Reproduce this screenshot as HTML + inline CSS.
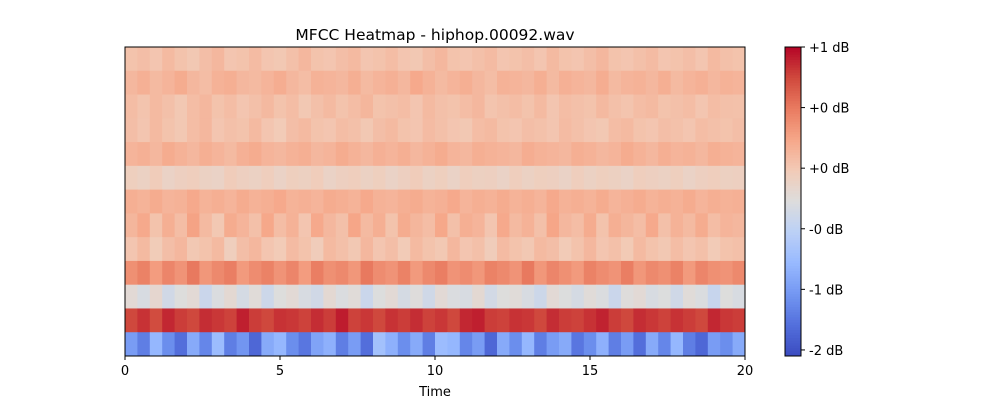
<!DOCTYPE html>
<html><head><meta charset="utf-8"><style>
body{margin:0;background:#fff;font-family:"Liberation Sans",sans-serif;}
svg text{font-family:"DejaVu Sans","Liberation Sans",sans-serif;font-size:13px;fill:#000}
</style></head><body>
<svg id="chart" width="1000" height="400" xmlns="http://www.w3.org/2000/svg">
<text x="435" y="40" text-anchor="middle" style="font-size:15.5px">MFCC Heatmap - hiphop.00092.wav</text>
<g id="cells"></g>
<rect x="125" y="47" width="620" height="309" fill="none" stroke="#000" stroke-width="1"/>
<g id="xaxis"></g>
<text x="435" y="396" text-anchor="middle">Time</text>
<g id="cbar"></g>
</svg>
<script>
const xTicks=[0,5,10,15,20];
const cbTicks=[1,0.5,0,-0.5,-1,-1.5];
const cbLabels=["+1 dB","+0 dB","+0 dB","-0 dB","-1 dB","-2 dB"];
const vmin=-1.55, vmax=1.0, tMax=20;
// rows top to bottom, each sampled across time
const row1=[0.04,0.07,0.02,0.1,0.04,0.0,0.07,0.12,0.02,0.04,0.09,0.02,0.0,0.06,0.12,0.04,0.02,0.07,0.1,0.02,0.04,0.08,0.02,0.0,0.07,0.12,0.04,0.02,0.06,0.09,0.02,0.04,0.07,0.02,0.1,0.04,0.02,0.07,0.12,0.04,0.02,0.06,0.09,0.02,0.04,0.07,0.02,0.1,0.06,0.04];
const row2=[0.12,0.17,0.1,0.14,0.2,0.12,0.08,0.16,0.18,0.12,0.1,0.14,0.19,0.12,0.08,0.16,0.14,0.12,0.18,0.1,0.14,0.17,0.12,0.22,0.16,0.1,0.14,0.18,0.12,0.08,0.16,0.14,0.12,0.18,0.1,0.17,0.14,0.12,0.19,0.1,0.14,0.16,0.12,0.18,0.1,0.14,0.17,0.12,0.16,0.14];
const row3=[0.08,0.03,0.1,0.06,0.0,0.08,0.12,0.04,0.08,0.02,0.06,0.11,0.04,0.08,0.0,0.06,0.1,0.04,0.08,0.13,0.04,0.06,0.08,0.02,0.1,0.06,0.04,0.08,0.12,0.03,0.06,0.08,0.04,0.1,0.02,0.08,0.06,0.04,0.11,0.06,0.03,0.08,0.1,0.04,0.06,0.08,0.02,0.08,0.06,0.05];
const row4=[0.07,0.02,0.1,0.04,0.0,0.08,0.12,0.02,0.06,0.04,0.1,0.02,-0.02,0.07,0.1,0.04,0.02,0.08,0.06,0.0,0.07,0.1,0.04,0.02,0.09,0.06,0.02,0.0,0.08,0.1,0.04,0.02,0.07,0.05,0.02,0.09,0.06,0.02,0.0,0.08,0.1,0.04,0.02,0.07,0.05,0.02,0.08,0.06,0.04,0.07];
const row5=[0.14,0.17,0.12,0.2,0.16,0.12,0.18,0.14,0.1,0.17,0.2,0.14,0.12,0.16,0.18,0.12,0.14,0.2,0.16,0.12,0.17,0.14,0.18,0.12,0.16,0.2,0.14,0.12,0.18,0.16,0.14,0.12,0.19,0.16,0.14,0.12,0.18,0.16,0.12,0.14,0.2,0.16,0.12,0.18,0.14,0.16,0.12,0.18,0.16,0.14];
const row6=[-0.07,-0.1,-0.04,-0.12,-0.08,-0.06,-0.1,-0.12,-0.04,-0.08,-0.1,-0.06,-0.12,-0.07,-0.09,-0.05,-0.12,-0.08,-0.06,-0.1,-0.07,-0.12,-0.08,-0.04,-0.1,-0.07,-0.12,-0.06,-0.09,-0.08,-0.12,-0.06,-0.1,-0.07,-0.08,-0.12,-0.06,-0.1,-0.07,-0.09,-0.12,-0.06,-0.08,-0.1,-0.07,-0.12,-0.08,-0.06,-0.09,-0.08];
const row7=[0.18,0.15,0.2,0.14,0.16,0.22,0.15,0.18,0.14,0.2,0.16,0.18,0.22,0.15,0.17,0.14,0.2,0.18,0.15,0.22,0.16,0.14,0.18,0.2,0.15,0.17,0.22,0.14,0.18,0.16,0.2,0.15,0.18,0.14,0.22,0.16,0.18,0.15,0.2,0.14,0.17,0.2,0.15,0.18,0.16,0.2,0.14,0.18,0.16,0.17];
const row8=[0.13,0.22,0.04,0.18,0.08,0.26,0.1,0.0,0.2,0.14,0.06,0.23,0.08,0.16,0.02,0.22,0.12,0.06,0.24,0.1,0.18,0.04,0.2,0.13,0.08,0.23,0.06,0.18,0.14,0.02,0.22,0.1,0.16,0.06,0.24,0.12,0.08,0.2,0.04,0.18,0.13,0.08,0.22,0.06,0.16,0.1,0.2,0.08,0.14,0.12];
const row9=[0.02,0.1,-0.03,0.07,0.12,0.0,0.04,0.1,-0.06,0.07,0.12,0.02,-0.02,0.09,0.04,-0.04,0.1,0.06,0.0,0.12,0.02,0.07,-0.02,0.1,0.04,0.0,0.12,0.02,0.06,-0.04,0.09,0.04,0.0,0.1,0.07,-0.02,0.04,0.12,0.02,0.06,-0.01,0.1,0.04,0.0,0.08,0.02,0.06,-0.02,0.04,0.06];
const row10=[0.37,0.45,0.3,0.43,0.35,0.5,0.33,0.41,0.47,0.31,0.39,0.45,0.35,0.43,0.3,0.47,0.37,0.41,0.33,0.5,0.39,0.35,0.45,0.31,0.41,0.47,0.35,0.39,0.33,0.45,0.41,0.35,0.5,0.33,0.43,0.37,0.31,0.45,0.39,0.35,0.47,0.33,0.41,0.37,0.45,0.31,0.43,0.37,0.35,0.41];
const row11=[-0.22,-0.32,-0.18,-0.37,-0.27,-0.22,-0.42,-0.3,-0.2,-0.34,-0.24,-0.4,-0.27,-0.22,-0.32,-0.37,-0.2,-0.3,-0.24,-0.42,-0.28,-0.22,-0.34,-0.26,-0.38,-0.22,-0.3,-0.32,-0.2,-0.36,-0.27,-0.24,-0.32,-0.4,-0.22,-0.28,-0.34,-0.24,-0.3,-0.42,-0.26,-0.22,-0.32,-0.28,-0.38,-0.24,-0.3,-0.44,-0.27,-0.32];
const row12=[0.75,0.83,0.73,0.87,0.79,0.75,0.85,0.81,0.77,0.9,0.79,0.75,0.83,0.81,0.77,0.85,0.79,0.91,0.77,0.81,0.75,0.83,0.79,0.85,0.77,0.81,0.75,0.87,0.9,0.79,0.77,0.83,0.81,0.75,0.85,0.79,0.77,0.83,0.89,0.79,0.75,0.85,0.81,0.77,0.83,0.79,0.75,0.87,0.81,0.79];
const row13=[-1.0,-1.2,-0.8,-1.1,-1.3,-0.9,-1.15,-0.75,-1.2,-1.05,-1.35,-0.9,-0.8,-1.1,-1.25,-0.95,-0.85,-1.2,-1.0,-1.3,-0.7,-0.85,-1.1,-0.9,-1.2,-0.75,-0.8,-1.15,-1.0,-1.35,-0.9,-1.1,-0.8,-1.2,-1.0,-0.9,-1.25,-1.1,-0.85,-1.2,-1.0,-1.3,-0.9,-1.15,-0.8,-1.2,-1.35,-1.0,-1.1,-0.9];
const rows=[row1,row2,row3,row4,row5,row6,row7,row8,row9,row10,row11,row12,row13];

const PX0=125,PX1=745,PY0=47,PY1=356;
const xScale=t=>PX0+(t/tMax)*(PX1-PX0);
const rowH=(PY1-PY0)/rows.length;
const cbY=v=>PY0+(vmax-v)/(vmax-vmin)*(PY1-PY0);
const stops=[[0,[59,76,192]],[0.1,[83,111,220]],[0.2,[115,151,242]],[0.3,[151,185,255]],[0.4,[187,208,246]],[0.5,[221,221,221]],[0.6,[242,203,183]],[0.7,[246,167,137]],[0.8,[233,123,96]],[0.9,[208,73,61]],[1,[180,4,38]]];
function cmap(v){let t=Math.max(0,Math.min(1,(v-vmin)/(vmax-vmin)));
 for(let i=1;i<stops.length;i++){if(t<=stops[i][0]){const a=stops[i-1],b=stops[i],f=(t-a[0])/(b[0]-a[0]);
 return 'rgb('+a[1].map((c,k)=>Math.round(c+(b[1][k]-c)*f)).join(',')+')';}}return 'rgb(180,4,38)';}
const NS="http://www.w3.org/2000/svg";
function mk(tag,attrs,parent){const e=document.createElementNS(NS,tag);for(const k in attrs)e.setAttribute(k,attrs[k]);parent.appendChild(e);return e;}
const cells=document.getElementById('cells');
rows.forEach((r,ri)=>{const n=r.length;r.forEach((v,ci)=>{
 const x0=xScale(ci*tMax/n),x1=xScale((ci+1)*tMax/n);
 const c=mk('rect',{x:x0,y:PY0+ri*rowH,width:x1-x0+0.5,height:rowH+0.5,fill:cmap(v)},cells);
 
 
});});
const xa=document.getElementById('xaxis');
xTicks.forEach(t=>{const x=xScale(t);
 const l=mk('line',{x1:x,x2:x,y1:PY1,y2:PY1+4,stroke:'#000'},xa);
 
 
 const tx=mk('text',{x:x,y:PY1+19,'text-anchor':'middle'},xa);tx.textContent=t;
 
 
});
const cb=document.getElementById('cbar');
const N=120;
for(let i=0;i<N;i++){const v0=vmax-(i/N)*(vmax-vmin),v1=vmax-((i+1)/N)*(vmax-vmin);
 const r=mk('rect',{x:785,y:cbY(v0),width:16,height:cbY(v1)-cbY(v0)+0.5,fill:cmap((v0+v1)/2)},cb);
 
 
}
const fr=mk('rect',{x:785,y:PY0,width:16,height:PY1-PY0,fill:'none',stroke:'#000'},cb);


cbTicks.forEach((v,i)=>{const y=cbY(v);
 const l=mk('line',{x1:801,x2:805,y1:y,y2:y,stroke:'#000'},cb);
 
 
 const tx=mk('text',{x:809,y:y+5},cb);tx.textContent=cbLabels[i];
 
 
});
</script>
</body></html>
